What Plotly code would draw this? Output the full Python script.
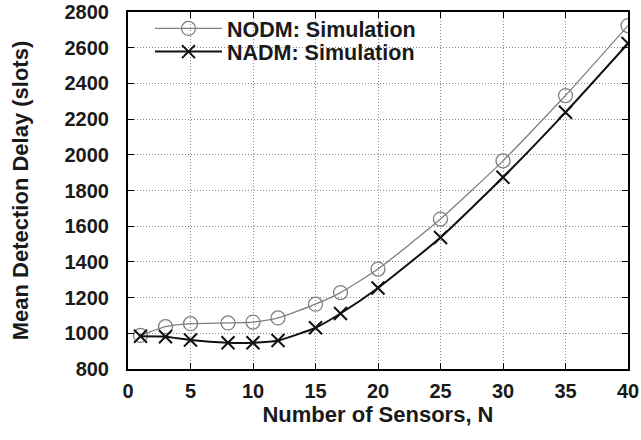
import plotly.graph_objects as go

n_sensors = [1, 3, 5, 8, 10, 12, 15, 17, 20, 25, 30, 35, 40]
nodm_sim = [988, 1037, 1054, 1058, 1063, 1086, 1163, 1228, 1360, 1640, 1966, 2332, 2724]
nadm_sim = [983, 981, 962, 947, 947, 960, 1031, 1111, 1254, 1537, 1874, 2238, 2624]

x_ticks = [0, 5, 10, 15, 20, 25, 30, 35, 40]
y_ticks = [800, 1000, 1200, 1400, 1600, 1800, 2000, 2200, 2400, 2600, 2800]

FONT = "Liberation Sans, Arial, sans-serif"
INK = "#1a1a1a"

fig = go.Figure()
fig.add_trace(go.Scatter(
    x=n_sensors, y=nodm_sim, mode="lines+markers", name="NODM: Simulation",
    legend="legend",
    line=dict(color="#7f7f7f", width=1.3, shape="spline", smoothing=0.5),
    marker=dict(symbol="circle-open", size=14, color="#7f7f7f", line=dict(width=1.3)),
))
fig.add_trace(go.Scatter(
    x=n_sensors, y=nadm_sim, mode="lines+markers", name="NADM: Simulation",
    legend="legend2",
    line=dict(color="#111111", width=2, shape="spline", smoothing=0.5),
    marker=dict(symbol="x-thin-open", size=13, color="#111111", line=dict(width=2, color="#111111")),
))

axis_common = dict(
    showline=True, linecolor="black", linewidth=2, mirror="ticks",
    ticks="inside", ticklen=6, tickwidth=1, tickcolor="black",
    showgrid=True, gridcolor="#8a8a8a", gridwidth=1, griddash="1px,2px",
    zeroline=False, ticklabeloverflow="allow",
    tickfont=dict(family=FONT, size=20, color=INK, weight="bold"),
)

legend_common = dict(
    x=0.044, xanchor="left", yanchor="middle",
    bgcolor="rgba(0,0,0,0)", itemwidth=67,
    font=dict(family=FONT, size=21.5, weight="bold", color=INK),
)

fig.update_layout(
    width=641, height=440,
    margin=dict(l=128, r=13, t=12, b=71, autoexpand=False),
    paper_bgcolor="white", plot_bgcolor="white",
    font=dict(family=FONT, color=INK),
    xaxis=dict(range=[0, 40], tickvals=x_ticks, ticklabelstandoff=3,
               title=dict(text="Number of Sensors, N", standoff=1,
                          font=dict(family=FONT, size=22, weight="bold", color=INK)),
               **axis_common),
    yaxis=dict(range=[800, 2800], tickvals=y_ticks, ticklabelstandoff=13,
               title=dict(text="Mean Detection Delay (slots)", standoff=30,
                          font=dict(family=FONT, size=22, weight="bold", color=INK)),
               **axis_common),
    legend=dict(y=0.954, **legend_common),
    legend2=dict(y=0.889, **legend_common),
    showlegend=True,
)

fig.write_html("out.html")
